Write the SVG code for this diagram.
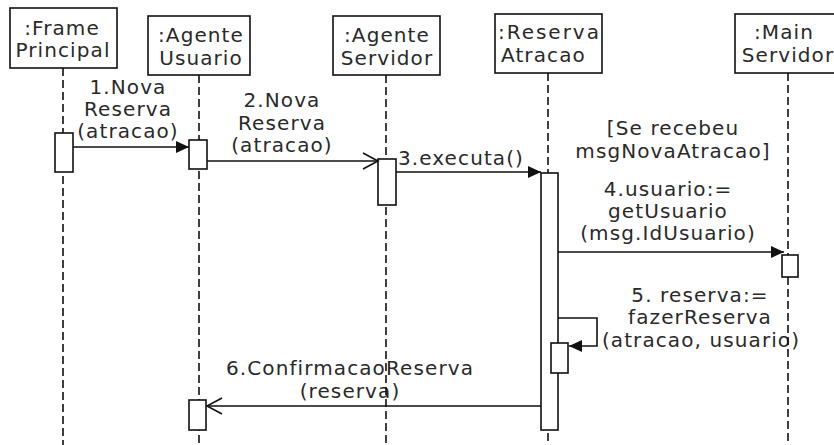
<svg xmlns="http://www.w3.org/2000/svg" width="834" height="445" viewBox="0 0 834 445">
<style>
text{font-family:"DejaVu Sans","Noto Sans",sans-serif;font-size:20px;fill:#2a2a2a;letter-spacing:1.1px}
.c{text-anchor:middle}
.box{fill:#fff;stroke:#111;stroke-width:1.6}
.life{stroke:#111;stroke-width:1.6;stroke-dasharray:8 4;fill:none}
.act{fill:#fff;stroke:#111;stroke-width:1.6}
.msg{stroke:#111;stroke-width:1.6;fill:none}
.f{marker-end:url(#filled)}
.o{marker-end:url(#open)}
</style>
<defs>
<marker id="filled" markerUnits="userSpaceOnUse" markerWidth="14" markerHeight="14" refX="13" refY="6" orient="auto" viewBox="0 0 14 12">
<path d="M0,0 L13,6 L0,12 z" fill="#111"/>
</marker>
<marker id="open" markerUnits="userSpaceOnUse" markerWidth="18" markerHeight="20" refX="16" refY="9" orient="auto" viewBox="0 0 18 18">
<path d="M1,1 L16,9 L1,17" fill="none" stroke="#111" stroke-width="1.6"/>
</marker>
</defs>
<rect width="834" height="445" fill="#fff"/>

<g id="labels">
<text class="c" x="128" y="94">1.Nova</text>
<text class="c" x="128" y="116">Reserva</text>
<text class="c" x="128" y="138">(atracao)</text>
<text class="c" x="282" y="107">2.Nova</text>
<text class="c" x="282" y="130">Reserva</text>
<text class="c" x="282" y="152">(atracao)</text>
<text class="c" x="461" y="165">3.executa()</text>
<text class="c" x="673" y="135">[Se recebeu</text>
<text class="c" x="673" y="158">msgNovaAtracao]</text>
<text class="c" x="668" y="196">4.usuario:=</text>
<text class="c" x="668" y="218">getUsuario</text>
<text class="c" x="668" y="240">(msg.IdUsuario)</text>
<text class="c" x="700" y="302">5. reserva:=</text>
<text class="c" x="700" y="324">fazerReserva</text>
<text class="c" x="701" y="347">(atracao, usuario)</text>
<text class="c" x="350" y="375">6.ConfirmacaoReserva</text>
<text class="c" x="350" y="398">(reserva)</text>
</g>

<g id="lifelines">
<line class="life" x1="63" y1="68" x2="63" y2="445"/>
<line class="life" x1="199" y1="75" x2="199" y2="445"/>
<line class="life" x1="386" y1="75" x2="386" y2="445"/>
<line class="life" x1="548" y1="73" x2="548" y2="445"/>
<line class="life" x1="788" y1="73" x2="788" y2="445"/>
</g>

<g id="frame-principal">
<rect class="box" x="10" y="8" width="107" height="60"/>
<text class="c" x="62" y="35">:Frame</text>
<text class="c" x="63" y="57">Principal</text>
<rect class="act" x="55" y="133" width="18" height="39"/>
</g>

<g id="agente-usuario">
<rect class="box" x="148" y="16" width="102" height="59"/>
<text class="c" x="201" y="42">:Agente</text>
<text class="c" x="201" y="65">Usuario</text>
<rect class="act" x="189" y="140" width="18" height="29"/>
<rect class="act" x="189" y="400" width="17" height="30"/>
</g>

<g id="agente-servidor">
<rect class="box" x="333" y="16" width="107" height="59"/>
<text class="c" x="387" y="42">:Agente</text>
<text class="c" x="387" y="65">Servidor</text>
<rect class="act" x="378" y="159" width="18" height="46"/>
</g>

<g id="reserva-atracao">
<rect class="box" x="495" y="14" width="107" height="59"/>
<text x="498" y="39" textLength="102">:Reserva</text>
<text x="501" y="62">Atracao</text>
<rect class="act" x="541" y="173" width="17" height="257"/>
<rect class="act" x="551" y="343" width="17" height="30"/>
</g>

<g id="main-servidor">
<rect class="box" x="735" y="14" width="110" height="59"/>
<text class="c" x="784" y="39">:Main</text>
<text class="c" x="788" y="62">Servidor</text>
<rect class="act" x="782" y="255" width="16" height="22"/>
</g>

<g id="connectors">
<line class="msg f" x1="73" y1="147" x2="189" y2="147"/>
<line class="msg o" x1="207" y1="161" x2="378" y2="161"/>
<line class="msg f" x1="396" y1="172" x2="541" y2="172"/>
<line class="msg f" x1="558" y1="252" x2="784" y2="252"/>
<path class="msg f" d="M558,318 H597 V346 H569"/>
<line class="msg o" x1="541" y1="406" x2="207" y2="406"/>
</g>
</svg>
